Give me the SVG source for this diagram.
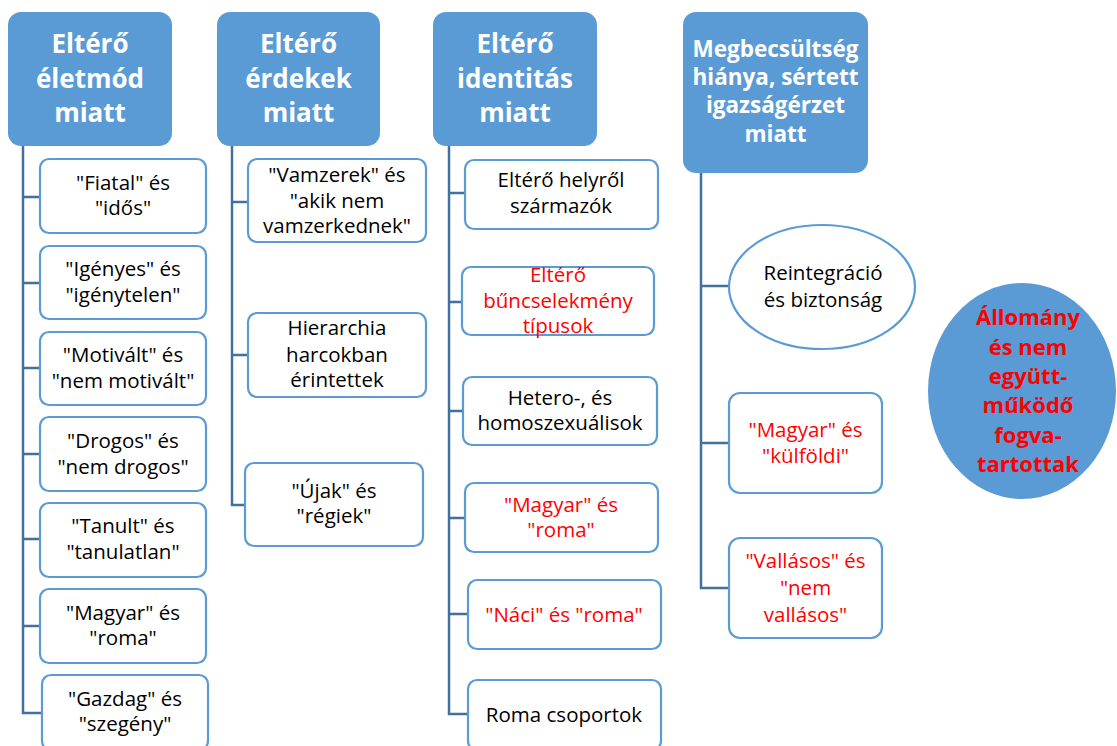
<svg xmlns="http://www.w3.org/2000/svg" width="1117" height="746" viewBox="0 0 1117 746">
<style>
.hdr{fill:#5B9BD5;}
.box{fill:#FFFFFF;stroke:#5B9BD5;stroke-width:2.2;}
.conn{fill:none;stroke:#41719C;stroke-width:2.5;}
.ht{font-family:"Open Sans","Liberation Sans",sans-serif;font-weight:bold;fill:#FFFFFF;text-anchor:middle;}
.t{font-family:"Open Sans","Liberation Sans",sans-serif;font-size:20.5px;fill:#000000;text-anchor:middle;}
.r{fill:#FF0000;}
.ct{font-family:"Open Sans","Liberation Sans",sans-serif;font-weight:bold;font-size:22px;fill:#FF0000;text-anchor:middle;}
</style>
<rect width="1117" height="746" fill="#FFFFFF"/>
<g id="connectors">
<path class="conn" d="M23,146 V713 H42 M23,197 H40 M23,283 H40 M23,368 H40 M23,454 H40 M23,539 H40 M23,626 H40"/>
<path class="conn" d="M232,146 V505 H245 M232,202 H248 M232,355 H248"/>
<path class="conn" d="M449,146 V714 H468 M449,193 H465 M449,302 H462 M449,411 H463 M449,518 H465 M449,614 H468"/>
<path class="conn" d="M701,173 V588 H729 M701,286 H729 M701,443 H729"/>
</g>
<g id="h1"><rect class="hdr" x="8" y="12" width="164" height="134" rx="13"/>
<text class="ht" font-size="26" x="90" y="53">Eltérő</text><text class="ht" font-size="26" x="90" y="88">életmód</text><text class="ht" font-size="26" x="90" y="122">miatt</text></g>
<g id="h2"><rect class="hdr" x="217" y="12" width="163" height="134" rx="13"/>
<text class="ht" font-size="26" x="298.5" y="53">Eltérő</text><text class="ht" font-size="26" x="298.5" y="88">érdekek</text><text class="ht" font-size="26" x="298.5" y="122">miatt</text></g>
<g id="h3"><rect class="hdr" x="433" y="12" width="164" height="134" rx="13"/>
<text class="ht" font-size="26" x="515" y="53">Eltérő</text><text class="ht" font-size="26" x="515" y="88">identitás</text><text class="ht" font-size="26" x="515" y="122">miatt</text></g>
<g id="h4"><rect class="hdr" x="683" y="12" width="185" height="161" rx="13"/>
<text class="ht" font-size="22.5" x="775.5" y="57">Megbecsültség</text><text class="ht" font-size="22.5" x="775.5" y="85">hiánya, sértett</text><text class="ht" font-size="22.5" x="775.5" y="113">igazságérzet</text><text class="ht" font-size="22.5" x="775.5" y="142">miatt</text></g>

<g id="c1b1"><rect class="box" x="40" y="159" width="166" height="74" rx="9"/><text class="t" x="123" y="190">"Fiatal" és</text><text class="t" x="123" y="215">"idős"</text></g>
<g id="c1b2"><rect class="box" x="40" y="246" width="166" height="73" rx="9"/><text class="t" x="123" y="276">"Igényes" és</text><text class="t" x="123" y="302">"igénytelen"</text></g>
<g id="c1b3"><rect class="box" x="40" y="332" width="166" height="73" rx="9"/><text class="t" x="123" y="362">"Motivált" és</text><text class="t" x="123" y="388">"nem motivált"</text></g>
<g id="c1b4"><rect class="box" x="40" y="417" width="166" height="74" rx="9"/><text class="t" x="123" y="448">"Drogos" és</text><text class="t" x="123" y="474">"nem drogos"</text></g>
<g id="c1b5"><rect class="box" x="40" y="503" width="166" height="74" rx="9"/><text class="t" x="123" y="533">"Tanult" és</text><text class="t" x="123" y="559">"tanulatlan"</text></g>
<g id="c1b6"><rect class="box" x="40" y="589" width="166" height="74" rx="9"/><text class="t" x="123" y="620">"Magyar" és</text><text class="t" x="123" y="645">"roma"</text></g>
<g id="c1b7"><rect class="box" x="42" y="675" width="166" height="75" rx="9"/><text class="t" x="125" y="706">"Gazdag" és</text><text class="t" x="125" y="731">"szegény"</text></g>

<g id="c2b1"><rect class="box" x="248" y="159" width="178" height="83" rx="9"/><text class="t" x="337" y="182">"Vamzerek" és</text><text class="t" x="337" y="208">"akik nem</text><text class="t" x="337" y="233">vamzerkednek"</text></g>
<g id="c2b2"><rect class="box" x="248" y="313" width="178" height="84" rx="9"/><text class="t" x="337" y="335">Hierarchia</text><text class="t" x="337" y="362">harcokban</text><text class="t" x="337" y="387">érintettek</text></g>
<g id="c2b3"><rect class="box" x="245" y="463" width="178" height="83" rx="9"/><text class="t" x="334" y="498">"Újak" és</text><text class="t" x="334" y="523">"régiek"</text></g>

<g id="c3b1"><rect class="box" x="465" y="160" width="193" height="69" rx="9"/><text class="t" x="561" y="187">Eltérő helyről</text><text class="t" x="561" y="213">származók</text></g>
<g id="c3b2"><rect class="box" x="462" y="267" width="192" height="68" rx="9"/><text class="t r" x="558" y="282">Eltérő</text><text class="t r" x="558" y="308">bűncselekmény</text><text class="t r" x="558" y="333">típusok</text></g>
<g id="c3b3"><rect class="box" x="463" y="377" width="194" height="68" rx="9"/><text class="t" x="560" y="405">Hetero-, és</text><text class="t" x="560" y="430">homoszexuálisok</text></g>
<g id="c3b4"><rect class="box" x="465" y="483" width="193" height="69" rx="9"/><text class="t r" x="561" y="512">"Magyar" és</text><text class="t r" x="561" y="537">"roma"</text></g>
<g id="c3b5"><rect class="box" x="468" y="580" width="193" height="69" rx="9"/><text class="t r" x="564" y="622">"Náci" és "roma"</text></g>
<g id="c3b6"><rect class="box" x="468" y="680" width="193" height="70" rx="9"/><text class="t" x="564" y="722">Roma csoportok</text></g>

<g id="c4e1"><ellipse class="box" cx="822" cy="287" rx="93" ry="62"/><text class="t" x="823" y="280">Reintegráció</text><text class="t" x="823" y="307">és biztonság</text></g>
<g id="c4b2"><rect class="box" x="729" y="393" width="153" height="100" rx="11"/><text class="t r" x="805.5" y="437">"Magyar" és</text><text class="t r" x="805.5" y="463">"külföldi"</text></g>
<g id="c4b3"><rect class="box" x="729" y="538" width="153" height="100" rx="11"/><text class="t r" x="805.5" y="568">"Vallásos" és</text><text class="t r" x="805.5" y="595">"nem</text><text class="t r" x="805.5" y="622">vallásos"</text></g>

<g id="circle"><ellipse cx="1022" cy="391" rx="94" ry="108" fill="#5B9BD5"/>
<text class="ct" x="1028" y="325">Állomány</text><text class="ct" x="1028" y="355">és nem</text><text class="ct" x="1028" y="384">együtt-</text><text class="ct" x="1028" y="413">működő</text><text class="ct" x="1028" y="443">fogva-</text><text class="ct" x="1028" y="472">tartottak</text></g>
</svg>
